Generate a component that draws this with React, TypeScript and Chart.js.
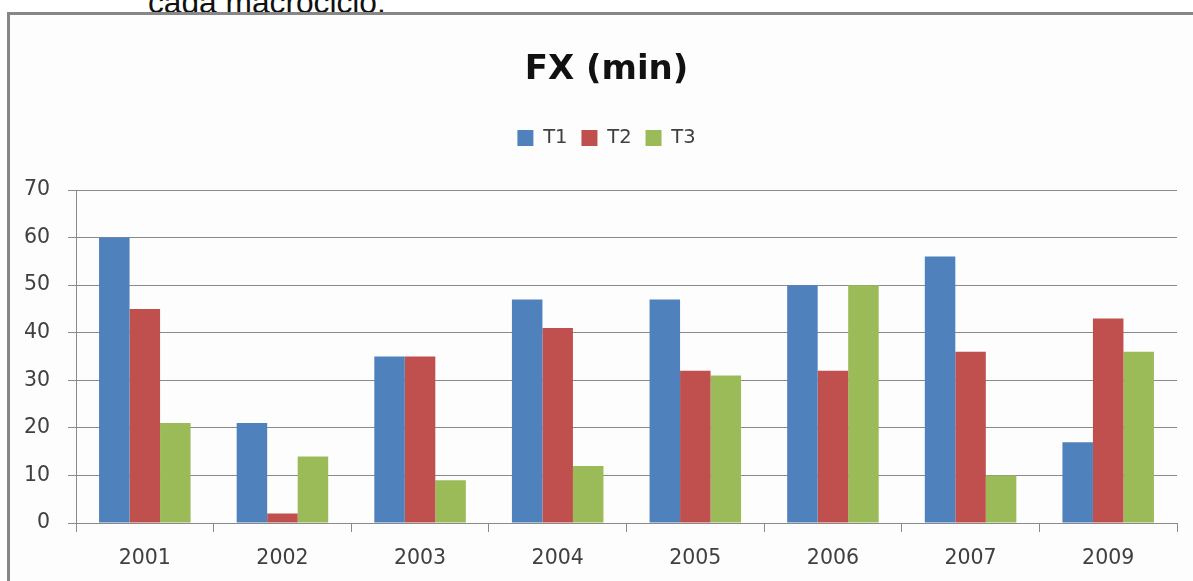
import { useEffect, useRef } from "react";
import { Chart, registerables } from "chart.js";

Chart.register(...registerables);

// Years shown on the category axis (no 2008 in the series)
const years = ["2001", "2002", "2003", "2004", "2005", "2006", "2007", "2009"];

// Minutes per macrocycle phase
const t1Values = [60, 21, 35, 47, 47, 50, 56, 17];
const t2Values = [45, 2, 35, 41, 32, 32, 36, 43];
const t3Values = [21, 14, 9, 12, 31, 50, 10, 36];

const seriesNames = ["T1", "T2", "T3"];
const seriesColors = ["#4F81BD", "#C0504D", "#9BBB59"];

const yMin = 0;
const yMax = 70;
const yStep = 10;

const chartTitle = "FX (min)";
const captionAbove = "cada macrociclo.";

const gridColor = "#8a8a8a";
const tickColor = "#404040";
const fontFamily = "'DejaVu Sans', sans-serif";

// Adds breathing room between the legend row and the plot area.
const legendGap = {
  id: "legendGap",
  afterInit(chart: any) {
    const legend = chart.legend;
    if (!legend) return;
    const fit = legend.fit;
    legend.fit = function () {
      fit.call(this);
      this.height += 32.25;
    };
  },
};

export default function App() {
  const canvasRef = useRef<HTMLCanvasElement | null>(null);

  useEffect(() => {
    const canvas = canvasRef.current;
    if (!canvas) return;

    const chart = new Chart(canvas, {
      type: "bar",
      data: {
        labels: years,
        datasets: [t1Values, t2Values, t3Values].map((values, i) => ({
          label: seriesNames[i],
          data: values,
          backgroundColor: seriesColors[i],
          borderWidth: 0,
          categoryPercentage: 0.665,
          barPercentage: 1,
        })),
      },
      options: {
        responsive: false,
        animation: false,
        devicePixelRatio: 1,
        layout: { padding: { left: 36, right: 16, top: 0, bottom: 10 } },
        plugins: {
          title: {
            display: true,
            text: chartTitle,
            color: "#111111",
            font: { family: fontFamily, size: 34, weight: "bold", lineHeight: 1.2 },
            padding: { top: 49.5, bottom: 23.95 },
          },
          legend: {
            display: true,
            position: "top",
            labels: {
              boxWidth: 16,
              boxHeight: 16,
              padding: 14,
              color: tickColor,
              font: { family: fontFamily, size: 19.5 },
            },
          },
          tooltip: { enabled: false },
        },
        scales: {
          x: {
            afterFit(scale: any) {
              scale.height = 48;
            },
            grid: {
              display: true,
              drawOnChartArea: false,
              drawTicks: true,
              tickLength: 9,
              color: gridColor,
              lineWidth: 1,
            },
            border: { display: true, color: gridColor, width: 1 },
            ticks: {
              color: tickColor,
              padding: 14,
              font: { family: fontFamily, size: 20.5, lineHeight: 1.2 },
              maxRotation: 0,
            },
          },
          y: {
            min: yMin,
            max: yMax,
            afterFit(scale: any) {
              scale.width = 40;
              // let the tick labels extend past the narrow axis box
              scale._computeLabelArea = () => undefined;
            },
            grid: {
              color: gridColor,
              lineWidth: 1,
              drawTicks: true,
              tickLength: 8,
            },
            border: { display: true, color: gridColor, width: 1 },
            ticks: {
              stepSize: yStep,
              color: tickColor,
              padding: 18,
              font: { family: fontFamily, size: 20.5, lineHeight: 1.2 },
            },
          },
        },
      },
      plugins: [legendGap],
    });

    return () => chart.destroy();
  }, []);

  return (
    <div
      style={{
        position: "absolute",
        left: 0,
        top: 0,
        width: 1193,
        height: 581,
        overflow: "hidden",
        background: "#ffffff",
      }}
    >
      <div
        style={{
          position: "absolute",
          left: 148,
          top: -13.8,
          fontFamily: "'Liberation Sans', Arial, sans-serif",
          fontSize: 31.7,
          lineHeight: "32px",
          color: "#111111",
          whiteSpace: "nowrap",
        }}
      >
        {captionAbove}
      </div>
      <div
        style={{
          position: "absolute",
          left: 7,
          top: 12,
          width: 1260,
          height: 700,
          border: "3px solid #878787",
          background: "#fdfdfd",
          boxSizing: "border-box",
        }}
      />
      <canvas
        ref={canvasRef}
        width={1193}
        height={581}
        style={{ position: "absolute", left: 0, top: 0, width: 1193, height: 581 }}
      />
    </div>
  );
}
